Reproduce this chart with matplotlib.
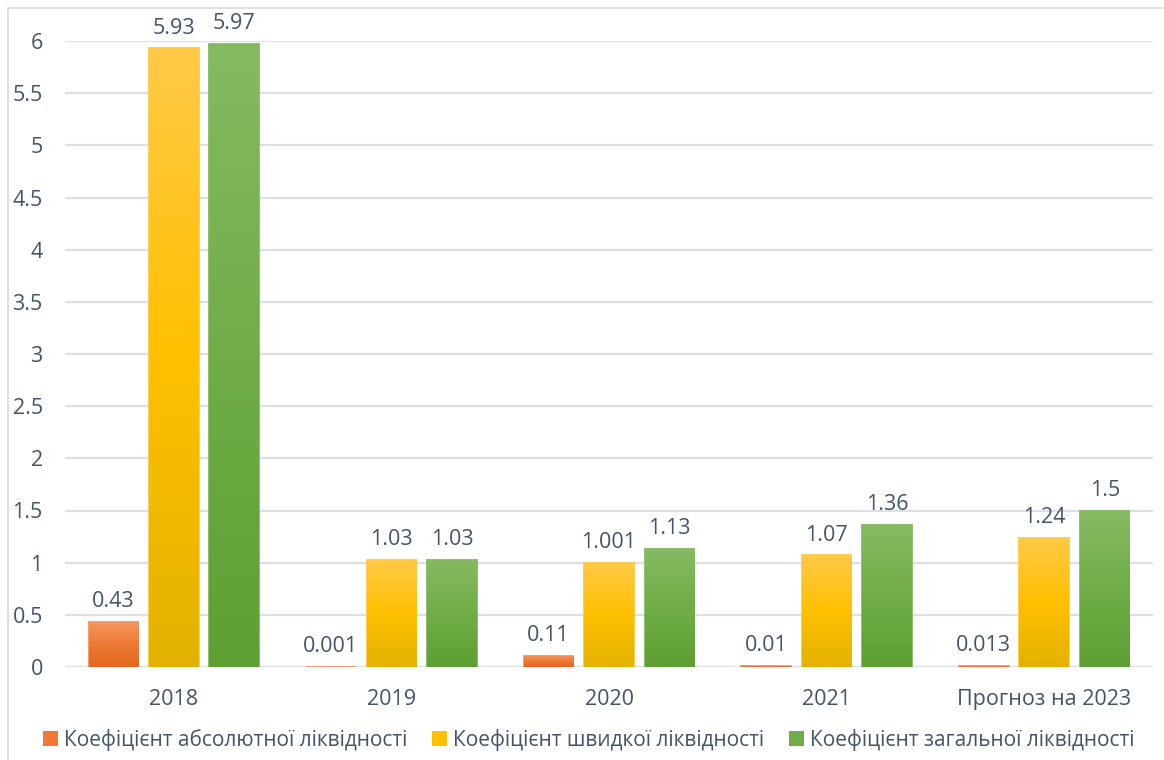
#!/usr/bin/env python3
# -*- coding: utf-8 -*-

import numpy as np
import matplotlib
matplotlib.use("Agg")
import matplotlib.pyplot as plt
from matplotlib.colors import LinearSegmentedColormap
from matplotlib.patches import Patch, Rectangle

categories = ["2018", "2019", "2020", "2021", "Прогноз на 2023"]
absolute_liq = [0.43, 0.001, 0.11, 0.01, 0.013]
quick_liq = [5.93, 1.03, 1.001, 1.07, 1.24]
general_liq = [5.97, 1.03, 1.13, 1.36, 1.5]
value_labels = [
	["0.43", "0.001", "0.11", "0.01", "0.013"],
	["5.93", "1.03", "1.001", "1.07", "1.24"],
	["5.97", "1.03", "1.13", "1.36", "1.5"],
]
series_names = [
	"Коефіцієнт абсолютної ліквідності",
	"Коефіцієнт швидкої ліквідності",
	"Коефіцієнт загальної ліквідності",
]
y_ticks = [0, 0.5, 1, 1.5, 2, 2.5, 3, 3.5, 4, 4.5, 5, 5.5, 6]
y_tick_labels = ["0", "0.5", "1", "1.5", "2", "2.5", "3", "3.5", "4", "4.5", "5", "5.5", "6"]

# top, middle, bottom of each bar gradient
gradients = [
	("#F4965E", "#EE7A35", "#E2671C"),
	("#FFC947", "#FFC000", "#E3B200"),
	("#86BA62", "#70AD47", "#5E9F33"),
]
text_color = "#44546A"
grid_color = "#DCDFE5"

plt.rcParams['font.family'] = ['Open Sans', 'DejaVu Sans']

fig = plt.figure(figsize=(11.64, 7.6), dpi=100)
ax = fig.add_axes([65 / 1164, 1 - 667 / 760, (1153 - 65) / 1164, (667 - 41) / 760])

width = 0.228
offsets = [-0.278, 0, 0.278]
x = np.arange(len(categories))
grad = np.linspace(0, 1, 256).reshape(-1, 1)

for s, vals in enumerate([absolute_liq, quick_liq, general_liq]):
	top, mid, bot = gradients[s]
	cmap = LinearSegmentedColormap.from_list("g%d" % s, [bot, mid, top])
	bars = ax.bar(x + offsets[s], vals, width, facecolor="none", edgecolor=top,
				  linewidth=1.3, zorder=2)
	for b, lab in zip(bars, value_labels[s]):
		bx, by = b.get_x(), b.get_y()
		bw, bh = b.get_width(), b.get_height()
		im = ax.imshow(grad, cmap=cmap, aspect="auto", origin="lower",
					   extent=(bx, bx + bw, by, by + bh), zorder=3)
		clip = Rectangle((bx, by), bw, bh, transform=ax.transData)
		im.set_clip_path(clip)
		ax.annotate(lab, (bx + bw / 2, by + bh), xytext=(0, 7), textcoords="offset points",
					ha="center", va="bottom", fontsize=15.5, color=text_color,
					annotation_clip=False, zorder=4)

ax.set_xlim(-0.5, len(categories) - 0.5)
ax.set_ylim(0, 6)
ax.set_xticks(x)
ax.set_xticklabels(categories, fontsize=15.5, color=text_color)
ax.set_yticks(y_ticks)
ax.set_yticklabels(y_tick_labels, fontsize=15.5, color=text_color)
ax.tick_params(length=0, pad=16)
ax.tick_params(axis="x", pad=16)
ax.yaxis.grid(True, color=grid_color, linewidth=1.6, zorder=0)
ax.set_axisbelow(True)
for sp in ax.spines.values():
	sp.set_visible(False)
ax.axhline(0, color=grid_color, linewidth=1.8, zorder=1)

handles = [Patch(facecolor=g[1], edgecolor="none") for g in gradients]
fig.legend(handles, series_names, loc="center", bbox_to_anchor=(0.506, 1 - 740 / 760),
		   ncol=3, frameon=False, fontsize=15, handlelength=0.7, handleheight=0.7,
		   handletextpad=0.3, columnspacing=1.2, labelcolor=text_color)

# chart border like Excel
fig.patches.append(Rectangle((8 / 1164, -0.1), 1.5, 1 - 8 / 760 + 0.1,
							 transform=fig.transFigure, fill=False,
							 edgecolor="#D9D9D9", linewidth=1.2))

fig.savefig("out.png", dpi=100)
